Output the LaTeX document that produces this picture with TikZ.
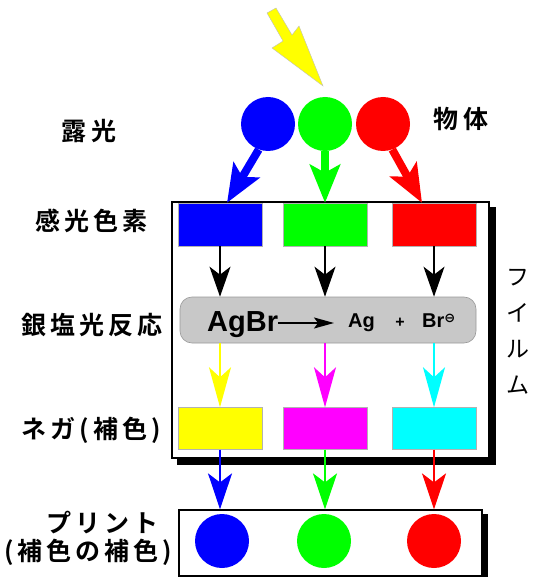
\documentclass[tikz,border=0pt]{standalone}
\usepackage{fontspec}
\setmainfont{Liberation Sans}
\newfontfamily\jpb{Noto Sans CJK JP}[UprightFont=* Bold, LetterSpace=16]
\newfontfamily\jpr{Noto Sans CJK JP}
\newfontfamily\dejavu{DejaVu Sans}
\usetikzlibrary{arrows.meta,backgrounds}
\definecolor{cB}{RGB}{0,0,255}
\definecolor{cG}{RGB}{0,255,0}
\definecolor{cR}{RGB}{255,0,0}
\definecolor{cY}{RGB}{255,255,0}
\definecolor{cM}{RGB}{255,0,255}
\definecolor{cC}{RGB}{0,255,255}
\definecolor{grayfill}{RGB}{200,200,200}
\begin{document}
\begin{tikzpicture}[x=1pt,y=-1pt,
  lab/.style={font=\jpb\fontsize{25}{28}\selectfont, inner sep=0},
  dot/.style={circle, fill=#1, minimum size=54pt, inner sep=0},
  crect/.style={rectangle, fill=#1, draw=gray!60, line width=0.4pt, minimum width=84pt, minimum height=42pt, inner sep=0},
  frame/.style={rectangle, draw=black, line width=1.2pt, fill=white, inner sep=0},
  bigarr/.style={draw=#1, line width=8pt, -{Stealth[length=38pt,width=30pt,inset=8pt]}},
  thinarr/.style={draw=#1, line width=1.6pt, -{Stealth[length=30pt,width=21pt,inset=8pt]}},
]
\useasboundingbox (0,0) rectangle (534,577);

% frames
\node[frame, minimum width=317pt, minimum height=256pt] (film) at (330.5,330) {};
\node[frame, minimum width=303pt, minimum height=66pt] (pf) at (330.5,543) {};
\begin{pgfonlayer}{background}
  \fill ([shift={(6,6)}]film.south west) rectangle ([shift={(6,6)}]film.north east);
  \fill ([shift={(5,5)}]pf.south west) rectangle ([shift={(5,5)}]pf.north east);
\end{pgfonlayer}

% incoming light
\fill[cY, draw=gray!50, line width=0.4pt] (267,13) -- (276,8) -- (292,35) -- (299,26) -- (323,86) -- (272,48) -- (283,41) -- cycle;

% object circles
\node[dot=cB] (c1) at (268,124) {};
\node[dot=cG] (c2) at (325,124) {};
\node[dot=cR] (c3) at (383,124) {};

% sensitive dye rects
\node[crect=cB, minimum height=43pt] (r1) at (220,224.5) {};
\node[crect=cG, minimum height=43pt] (r2) at (325,224.5) {};
\node[crect=cR, minimum height=43pt] (r3) at (434,224.5) {};

% silver reaction
\node[rectangle, rounded corners=12pt, fill=grayfill, draw=gray!80, line width=0.6pt, minimum width=296pt, minimum height=46pt, inner sep=0] (g) at (328,320) {};
\node[anchor=base west, inner sep=0, font=\bfseries\fontsize{29}{30}\selectfont] (t1) at (207,331) {AgBr};
\node[anchor=base west, inner sep=0, font=\bfseries\fontsize{20}{20}\selectfont] (t2) at (348,327) {Ag};
\node[anchor=base, inner sep=0, font=\bfseries\fontsize{16}{18}\selectfont] (t3) at (400,327) {+};
\node[anchor=base west, inner sep=0, font=\bfseries\fontsize{20}{20}\selectfont] (t4) at (422,327) {Br\raisebox{5pt}{\dejavu\fontsize{13}{13}\selectfont ⊖}};
\draw[line width=1.6pt, -{Stealth[length=20pt,width=11pt,inset=4pt]}] (t1.east |- 0,323) -- (334,323);

% negatives
\node[crect=cY] (n1) at (220,428.5) {};
\node[crect=cM] (n2) at (325,428.5) {};
\node[crect=cC] (n3) at (434,428.5) {};

% print circles
\node[dot=cB] (p1) at (222,541) {};
\node[dot=cG] (p2) at (324,541) {};
\node[dot=cR] (p3) at (434,541) {};

% exposure arrows
\draw[bigarr=cB] (c1.250) -- ([xshift=7pt]r1.north);
\draw[bigarr=cG] (c2.south) -- (r2.north);
\draw[bigarr=cR] (c3.290) -- ([xshift=-12pt]r3.north);

% black arrows
\draw[thinarr=black] (r1.south) -- (r1.south |- g.north);
\draw[thinarr=black] (r2.south) -- (r2.south |- g.north);
\draw[thinarr=black] (r3.south) -- (r3.south |- g.north);

% complementary arrows
\draw[thinarr=cY, -{Stealth[length=40pt,width=22pt,inset=10pt]}] (r1.south |- g.south) -- (n1.north);
\draw[thinarr=cM, -{Stealth[length=40pt,width=22pt,inset=10pt]}] (r2.south |- g.south) -- (n2.north);
\draw[thinarr=cC, -{Stealth[length=40pt,width=22pt,inset=10pt]}] (r3.south |- g.south) -- (n3.north);

% print arrows
\draw[thinarr=cB, -{Stealth[length=36pt,width=24pt,inset=9pt]}] (n1.south) -- (n1.south |- pf.north);
\draw[thinarr=cG, -{Stealth[length=36pt,width=24pt,inset=9pt]}] (n2.south) -- (n2.south |- pf.north);
\draw[thinarr=cR, -{Stealth[length=36pt,width=24pt,inset=9pt]}] (n3.south) -- (n3.south |- pf.north);

% labels
\node[lab] (l1) at (89,131) {露\kern5pt 光};
\node[lab] (l2) at (461,119) {物\kern5pt 体};
\node[lab] (l3) at (91,221) {感光色素};
\node[lab] (l4) at (92,325) {銀塩光反応};
\node[lab] (l5) at (91,430) {ネガ(補色)};
\node[lab] (l6) at (102,523) {プリント};
\node[lab] (l7) at (88,552) {(補色の補色)};
\node[inner sep=0, align=center, font=\jpr\fontsize{23}{36}\selectfont] (l8) at (518,332) {フ\\イ\\ル\\ム};
\end{tikzpicture}
\end{document}
